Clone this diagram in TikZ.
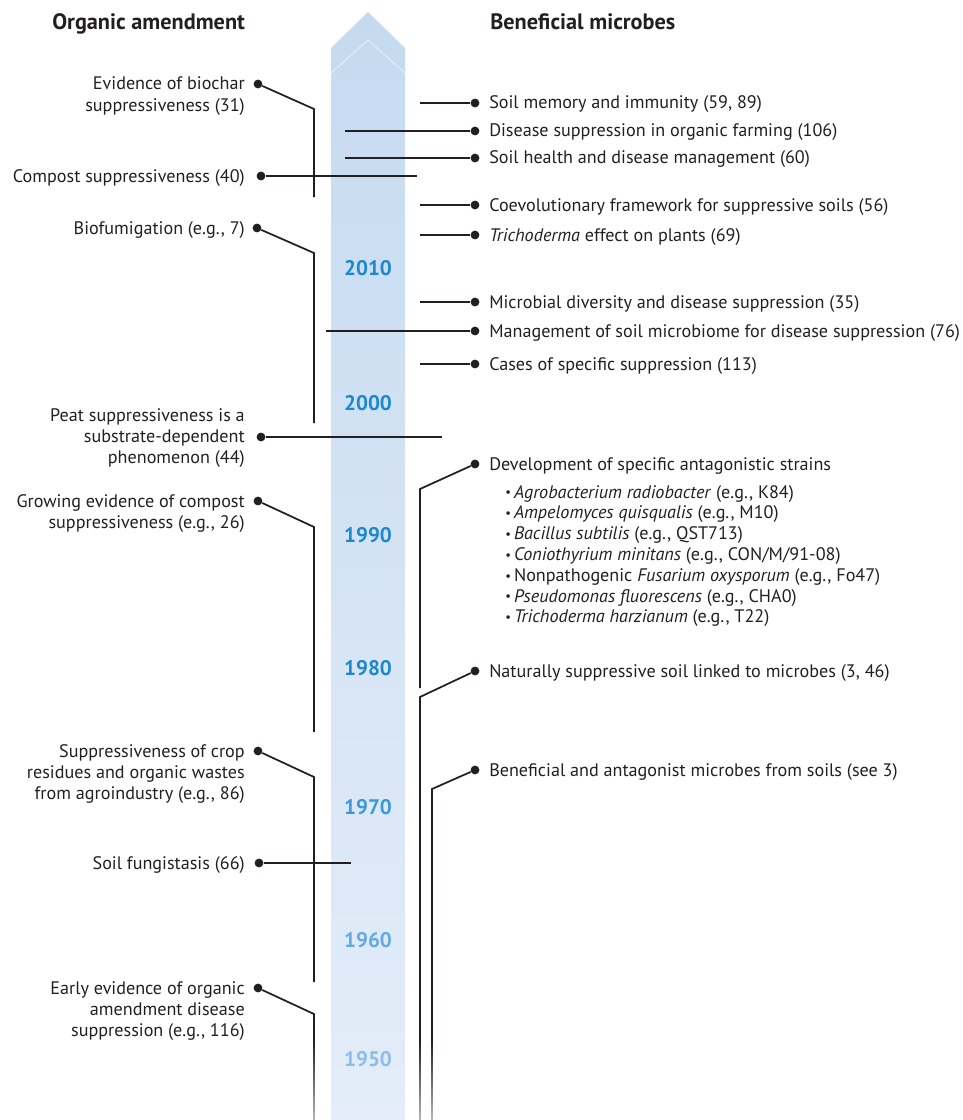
\documentclass[tikz,border=0pt]{standalone}
\usepackage{fontspec}
\setmainfont{PT Sans}
\usetikzlibrary{fadings}

\definecolor{lineC}{HTML}{231F20}
\definecolor{barTop}{HTML}{C5DAF0}
\definecolor{barBot}{HTML}{E4EDF9}
\definecolor{yrA}{HTML}{1A87CF}
\definecolor{yrB}{HTML}{3C98D8}
\definecolor{yrC}{HTML}{62AADF}
\definecolor{yrD}{HTML}{8DBDE7}

\newcommand{\evtfont}{\fontsize{13.6}{16.1}\selectfont}
\newcommand{\listfont}{\fontsize{13.6}{15.6}\selectfont}
\newcommand{\leftlines}[1]{\begin{tabular}[t]{@{}r@{}}#1\end{tabular}}
\newcommand{\bulletlines}[1]{\begin{tabular}[t]{@{}l@{}}#1\end{tabular}}
\newcommand{\listbul}{\makebox[6.6pt][l]{\raisebox{0.8pt}{\fontsize{9.5}{9.5}\selectfont •}}}

\tikzset{
  tdot/.style={circle, fill=lineC, inner sep=0pt, minimum size=6.6pt},
  conn/.style={draw=lineC, line width=1.3pt},
  rtext/.style={inner sep=0pt, font=\evtfont, anchor=base west, text=lineC},
  ltext/.style={inner sep=0pt, font=\evtfont, anchor=base east, text=lineC},
  head/.style={inner sep=0pt, font=\fontsize{16.7}{19}\selectfont\bfseries, anchor=base west, text=lineC},
  yearlbl/.style={inner sep=0pt, font=\fontsize{15.8}{18}\selectfont\bfseries},
}

\begin{document}
\begin{tikzpicture}[x=0.75pt, y=-0.75pt]
  \useasboundingbox (0,0) rectangle (963,1120);

  % time bar
  \shade[top color=barTop, bottom color=barBot] (331,1120) -- (331,48) -- (368,12) -- (405,48) -- (405,1120) -- cycle;
  \draw[white, line width=0.5pt, opacity=0.7] (331,73) -- (368,40) -- (405,73);

  \node[yearlbl, text=yrA] (y2010) at (368,268) {2010};
  \node[yearlbl, text=yrA] (y2000) at (368,403) {2000};
  \node[yearlbl, text=yrA] (y1990) at (368,535) {1990};
  \node[yearlbl, text=yrA] (y1980) at (368,668) {1980};
  \node[yearlbl, text=yrB] (y1970) at (368,807) {1970};
  \node[yearlbl, text=yrC] (y1960) at (368,940) {1960};
  \node[yearlbl, text=yrD] (y1950) at (368,1059) {1950};

  % headings
  \node[head] (hOrg) at (52,30) {Organic amendment};
  \node[head] (hMic) at (490,30) {Beneficial microbes};

  % organic amendment (left)
  \node[tdot] (l1) at (258,84) {};
  \node[tdot] (l2) at (261,176) {};
  \node[tdot] (l3) at (257,228) {};
  \node[tdot] (l4) at (261,437) {};
  \node[tdot] (l5) at (258,501) {};
  \node[tdot] (l6) at (258,751) {};
  \node[tdot] (l7) at (259,863) {};
  \node[tdot] (l8) at (258,988) {};

  \node[ltext] (tl1) at ([shift={(-13,6)}]l1) {\leftlines{Evidence of biochar\\suppressiveness (31)}};
  \node[ltext] (tl2) at ([shift={(-16,6)}]l2) {Compost suppressiveness (40)};
  \node[ltext] (tl3) at ([shift={(-12,6)}]l3) {Biofumigation (e.g., 7)};
  \node[ltext] (tl4) at ([shift={(-16,-16)}]l4) {\leftlines{Peat suppressiveness is a\\substrate-dependent\\phenomenon (44)}};
  \node[ltext] (tl5) at ([shift={(-13,6)}]l5) {\leftlines{Growing evidence of compost\\suppressiveness (e.g., 26)}};
  \node[ltext] (tl6) at ([shift={(-13,6)}]l6) {\leftlines{Suppressiveness of crop\\residues and organic wastes\\from agroindustry (e.g., 86)}};
  \node[ltext] (tl7) at ([shift={(-14,6)}]l7) {Soil fungistasis (66)};
  \node[ltext] (tl8) at ([shift={(-13,6)}]l8) {\leftlines{Early evidence of organic\\amendment disease\\suppression (e.g., 116)}};

  \coordinate (l1b) at (314,109);
  \coordinate (l1e) at (314,197);
  \coordinate (l2e) at (417,176);
  \coordinate (l3b) at (314,253);
  \coordinate (l3e) at (314,423);
  \coordinate (l4e) at (442,437);
  \coordinate (l5b) at (314,527);
  \coordinate (l5e) at (314,732);
  \coordinate (l6b) at (314,777);
  \coordinate (l6e) at (314,982);
  \coordinate (l7e) at (351,863);
  \coordinate (l8b) at (314,1014);
  \coordinate (l8e) at (314,1130);

  \draw[conn] (l1) -- (l1b) -- (l1e);
  \draw[conn] (l2) -- (l2e);
  \draw[conn] (l3) -- (l3b) -- (l3e);
  \draw[conn] (l4) -- (l4e);
  \draw[conn] (l5) -- (l5b) -- (l5e);
  \draw[conn] (l6) -- (l6b) -- (l6e);
  \draw[conn] (l7) -- (l7e);
  \draw[conn] (l8) -- (l8b) -- (l8e);

  % beneficial microbes (right)
  \node[tdot] (r1) at (475,103) {};
  \node[tdot] (r2) at (475,131) {};
  \node[tdot] (r3) at (475,158) {};
  \node[tdot] (r4) at (475,205) {};
  \node[tdot] (r5) at (475,235) {};
  \node[tdot] (r6) at (475,302) {};
  \node[tdot] (r7) at (475,331) {};
  \node[tdot] (r8) at (475,364) {};
  \node[tdot] (r9) at (475,464) {};
  \node[tdot] (r10) at (475,671) {};
  \node[tdot] (r11) at (475,770) {};

  \node[rtext] (tr1) at ([shift={(14,6)}]r1) {Soil memory and immunity (59, 89)};
  \node[rtext] (tr2) at ([shift={(14,6)}]r2) {Disease suppression in organic farming (106)};
  \node[rtext] (tr3) at ([shift={(14,6)}]r3) {Soil health and disease management (60)};
  \node[rtext] (tr4) at ([shift={(14,6)}]r4) {Coevolutionary framework for suppressive soils (56)};
  \node[rtext] (tr5) at ([shift={(14,6)}]r5) {\textit{Trichoderma} effect on plants (69)};
  \node[rtext] (tr6) at ([shift={(14,6)}]r6) {Microbial diversity and disease suppression (35)};
  \node[rtext] (tr7) at ([shift={(14,6)}]r7) {Management of soil microbiome for disease suppression (76)};
  \node[rtext] (tr8) at ([shift={(14,6)}]r8) {Cases of specific suppression (113)};
  \node[rtext] (tr9) at ([shift={(14,6)}]r9) {Development of specific antagonistic strains};
  \node[rtext, font=\listfont] (tr9list) at ([shift={(16,28)}]tr9.base west) {\bulletlines{%
    \listbul\textit{Agrobacterium radiobacter} (e.g., K84)\\
    \listbul\textit{Ampelomyces quisqualis} (e.g., M10)\\
    \listbul\textit{Bacillus subtilis} (e.g., QST713)\\
    \listbul\textit{Coniothyrium minitans} (e.g., CON/M/91-08)\\
    \listbul Nonpathogenic \textit{Fusarium oxysporum} (e.g., Fo47)\\
    \listbul\textit{Pseudomonas fluorescens} (e.g., CHA0)\\
    \listbul\textit{Trichoderma harzianum} (e.g., T22)}};
  \node[rtext] (tr10) at ([shift={(14,6)}]r10) {Naturally suppressive soil linked to microbes (3, 46)};
  \node[rtext] (tr11) at ([shift={(14,6)}]r11) {Beneficial and antagonist microbes from soils (see 3)};

  \coordinate (r1s) at (420,103);
  \coordinate (r2s) at (345,131);
  \coordinate (r3s) at (345,158);
  \coordinate (r4s) at (420,205);
  \coordinate (r5s) at (420,235);
  \coordinate (r6s) at (420,302);
  \coordinate (r7s) at (326,331);
  \coordinate (r8s) at (420,364);
  \coordinate (r9b) at (420,489);
  \coordinate (r9e) at (420,688);
  \coordinate (r10b) at (420,697);
  \coordinate (r10e) at (420,1130);
  \coordinate (r11b) at (432,789);
  \coordinate (r11e) at (432,1130);

  \draw[conn] (r1s) -- (r1);
  \draw[conn] (r2s) -- (r2);
  \draw[conn] (r3s) -- (r3);
  \draw[conn] (r4s) -- (r4);
  \draw[conn] (r5s) -- (r5);
  \draw[conn] (r6s) -- (r6);
  \draw[conn] (r7s) -- (r7);
  \draw[conn] (r8s) -- (r8);
  \draw[conn] (r9) -- (r9b) -- (r9e);
  \draw[conn] (r10) -- (r10b) -- (r10e);
  \draw[conn] (r11) -- (r11b) -- (r11e);

  % fade the lines out at the bottom
  \fill[white, path fading=north] (0,1040) rectangle (331,1160);
  \fill[white, path fading=north] (405,1040) rectangle (963,1160);
\end{tikzpicture}
\end{document}
